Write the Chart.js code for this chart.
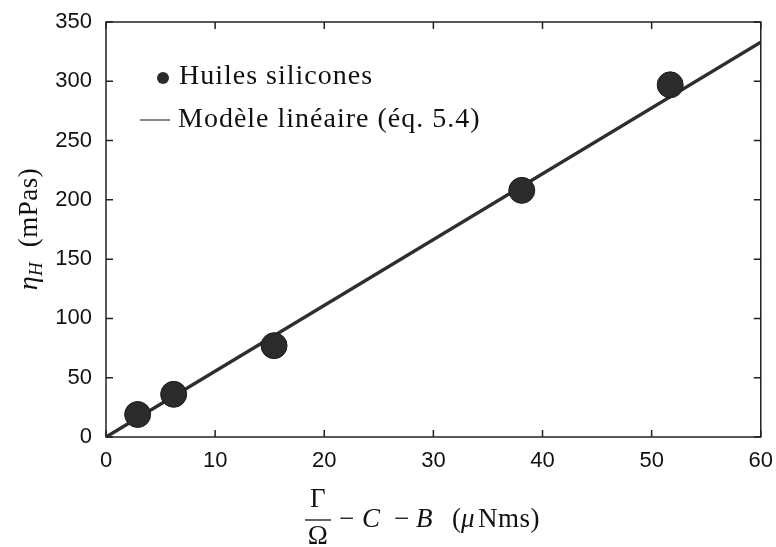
<!DOCTYPE html>
<html>
<head>
<meta charset="utf-8">
<script src="https://cdn.jsdelivr.net/npm/chart.js@4/dist/chart.umd.min.js"></script>
<style>
  html, body { margin: 0; padding: 0; background: #fff; }
  #wrap { width: 776px; height: 547px; }
</style>
</head>
<body>
<div id="wrap"><canvas id="graphe"></canvas></div>
<script>
// donnees
var xHuiles = [2.9, 6.2, 15.4, 38.1, 51.7];
var yHuiles = [19, 36, 77, 208, 297];
var xModele = [0, 60];
var yModele = [0, 333];
var xTicks = [0, 10, 20, 30, 40, 50, 60];
var yTicks = [0, 50, 100, 150, 200, 250, 300, 350];

var serif = '"Liberation Serif", "DejaVu Serif", serif';
var sans = '"Liberation Sans", Arial, sans-serif';
var encre = "#2b2b2b";

// graduations vers l'interieur, legende et titres des axes
var ticksInterieurs = {
    id: "ticksInterieurs",
    afterDraw: function (chart) {
        let ctx = chart.ctx;
        let a = chart.chartArea;
        let sx = chart.scales.x, sy = chart.scales.y;
        ctx.save();
        ctx.strokeStyle = "#222";
        ctx.lineWidth = 1.5;
        ctx.strokeRect(a.left, a.top, a.right - a.left, a.bottom - a.top);
        ctx.beginPath();
        xTicks.forEach(function (v) {
            let px = sx.getPixelForValue(v);
            ctx.moveTo(px, a.bottom); ctx.lineTo(px, a.bottom - 7);
            ctx.moveTo(px, a.top); ctx.lineTo(px, a.top + 7);
        });
        yTicks.forEach(function (v) {
            let py = sy.getPixelForValue(v);
            ctx.moveTo(a.left, py); ctx.lineTo(a.left + 7, py);
            ctx.moveTo(a.right, py); ctx.lineTo(a.right - 7, py);
        });
        ctx.stroke();

        // legende dans le cadre
        let ds = chart.data.datasets;
        ctx.font = "28px " + serif;
        ctx.letterSpacing = "1px";
        ctx.textBaseline = "alphabetic";
        ctx.textAlign = "left";
        ctx.beginPath();
        ctx.fillStyle = encre;
        ctx.arc(163, 78, 6, 0, Math.PI * 2);
        ctx.fill();
        ctx.fillStyle = "#111";
        ctx.fillText(ds[0].label, 179, 84);
        ctx.beginPath();
        ctx.strokeStyle = "#333";
        ctx.lineWidth = 1.2;
        ctx.moveTo(140, 120); ctx.lineTo(170, 120);
        ctx.stroke();
        ctx.fillText(ds[1].label, 178, 127);

        // titre axe y
        ctx.save();
        ctx.translate(37, 229);
        ctx.rotate(-Math.PI / 2);
        ctx.letterSpacing = "0.5px";
        let parts = [["η", "italic 28px ", 0], ["H", "italic 19px ", 5], ["  (mPas)", "27px ", 0]];
        let total = 0;
        parts.forEach(function (p) { ctx.font = p[1] + serif; total += ctx.measureText(p[0]).width; });
        let x0 = -total / 2;
        parts.forEach(function (p) {
            ctx.font = p[1] + serif;
            ctx.fillText(p[0], x0, p[2]);
            x0 += ctx.measureText(p[0]).width;
        });
        ctx.restore();

        // titre axe x : fraction puis le reste
        ctx.letterSpacing = "0.5px";
        ctx.font = "27px " + serif;
        ctx.textAlign = "center";
        ctx.fillText("Γ", 318, 507);
        ctx.fillText("Ω", 318, 544);
        ctx.beginPath();
        ctx.strokeStyle = "#111";
        ctx.lineWidth = 1.3;
        ctx.moveTo(305, 520); ctx.lineTo(331, 520);
        ctx.stroke();
        ctx.textAlign = "left";
        let morceaux = [["−", "27px ", 339], ["C", "italic 27px ", 362], ["−", "27px ", 394], ["B", "italic 27px ", 416], ["(", "27px ", 452], ["μ", "italic 27px ", 461], ["Nms)", "27px ", 478]];
        morceaux.forEach(function (m) {
            ctx.font = m[1] + serif;
            ctx.fillText(m[0], m[2], 527);
        });
        ctx.restore();
    }
};

let ctx = document.getElementById("graphe").getContext("2d");
let graphe = new Chart(ctx, {
    type: "scatter",
    data: {
        datasets: [{
            label: "Huiles silicones",
            data: xHuiles.map(function (x, i) { return { x: x, y: yHuiles[i] }; }),
            pointRadius: 13,
            pointBackgroundColor: encre,
            pointBorderColor: "#1a1a1a",
            pointBorderWidth: 1,
            showLine: false,
            order: 0
        }, {
            label: "Modèle linéaire (éq. 5.4)",
            data: xModele.map(function (x, i) { return { x: x, y: yModele[i] }; }),
            showLine: true,
            borderColor: "#2e2e2e",
            borderWidth: 3.5,
            pointRadius: 0,
            order: 1
        }]
    },
    options: {
        responsive: true,
        maintainAspectRatio: false,
        animation: false,
        events: [],
        layout: { padding: { top: 22, right: 14, left: 0, bottom: 0 } },
        plugins: { legend: { display: false }, tooltip: { enabled: false } },
        scales: {
            x: {
                type: "linear",
                min: 0, max: 60,
                afterFit: function (s) { s.height = 110; },
                afterBuildTicks: function (s) { s.ticks = xTicks.map(function (v) { return { value: v }; }); },
                grid: { display: false },
                border: { display: false },
                ticks: { color: "#111", font: { family: sans, size: 22 }, padding: 3, maxRotation: 0 }
            },
            y: {
                type: "linear",
                min: 0, max: 350,
                afterFit: function (s) { s.width = 106; },
                afterBuildTicks: function (s) { s.ticks = yTicks.map(function (v) { return { value: v }; }); },
                grid: { display: false },
                border: { display: false },
                ticks: { color: "#111", font: { family: sans, size: 22 }, padding: 6 }
            }
        }
    },
    plugins: [ticksInterieurs]
});
</script>
</body>
</html>
